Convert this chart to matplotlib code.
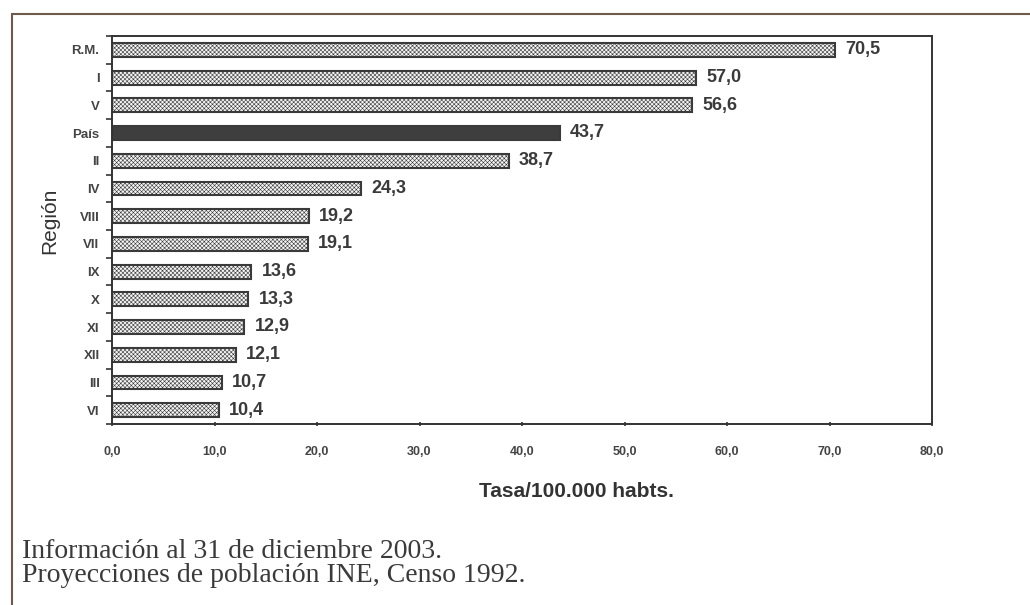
import numpy as np
import matplotlib.pyplot as plt
from matplotlib.patches import Rectangle

# Tasa por región (por 100.000 habitantes)
regiones = ['R.M.', 'I', 'V', 'País', 'II', 'IV', 'VIII', 'VII', 'IX', 'X', 'XI', 'XII', 'III', 'VI']
tasas = [70.5, 57.0, 56.6, 43.7, 38.7, 24.3, 19.2, 19.1, 13.6, 13.3, 12.9, 12.1, 10.7, 10.4]
xticks = [0, 10, 20, 30, 40, 50, 60, 70, 80]

plt.rcParams['font.family'] = ['Liberation Sans', 'DejaVu Sans']
plt.rcParams['hatch.color'] = '#c6c6c6'
plt.rcParams['hatch.linewidth'] = 0.4

fig = plt.figure(figsize=(10.3, 6.05), dpi=100)
ax = fig.add_axes([112 / 1030, 1 - 424 / 605, 820 / 1030, 388 / 605])

y = np.arange(len(regiones))
colores = ['#3e3e3e' if r == 'País' else '#f4f4f4' for r in regiones]
bars = ax.barh(y, tasas, height=0.5, color=colores, edgecolor='#3a3a3a',
               linewidth=1.5, hatch='xxxxxxxx')
bars[regiones.index('País')].set_hatch(None)

for yi, v in zip(y, tasas):
    ax.text(v + 1.0, yi, f'{v:.1f}'.replace('.', ','), va='center', ha='left',
            fontsize=13, fontweight='bold', color='#3a3a3a')

ax.set_ylim(len(regiones) - 0.5, -0.5)
ax.set_xlim(0, 80)
ax.set_yticks(y)
ax.set_yticklabels(regiones, fontsize=9.5, fontweight='bold', color='#444444')
ax.tick_params(axis='y', which='major', length=0, pad=9)
ax.set_yticks(np.arange(len(regiones) + 1) - 0.5, minor=True)
ax.tick_params(axis='y', which='minor', length=4, width=1.2, color='#333333')

ax.set_xticks(xticks)
ax.set_xticklabels([f'{t:.1f}'.replace('.', ',') for t in xticks],
                   fontsize=9, fontweight='bold', color='#444444')
ax.tick_params(axis='x', length=3, width=1.2, direction='inout', pad=14, color='#333333')

for s in ax.spines.values():
    s.set_color('#333333')
    s.set_linewidth(1.4)

ax.set_xlabel('Tasa/100.000 habts.', fontsize=15, fontweight='bold', color='#333333')
ax.xaxis.set_label_coords(0.566, -0.15)
ax.set_ylabel('Región', fontsize=15, color='#333333')
ax.yaxis.set_label_coords(-0.064, 0.523)

# marco exterior
fig.patches.append(Rectangle((12 / 1030, -0.1), 1.1, (605 - 14) / 605 + 0.1,
                             transform=fig.transFigure, fill=False,
                             edgecolor='#6e5a4a', linewidth=1.5))

fig.text(22 / 1030, 1 - 558 / 605, 'Información al 31 de diciembre 2003.',
         family='Liberation Serif', fontsize=20, color='#3a3a3a', va='baseline')
fig.text(22 / 1030, 1 - 582 / 605, 'Proyecciones de población INE, Censo 1992.',
         family='Liberation Serif', fontsize=20, color='#3a3a3a', va='baseline')

fig.savefig('out.png', dpi=100)
